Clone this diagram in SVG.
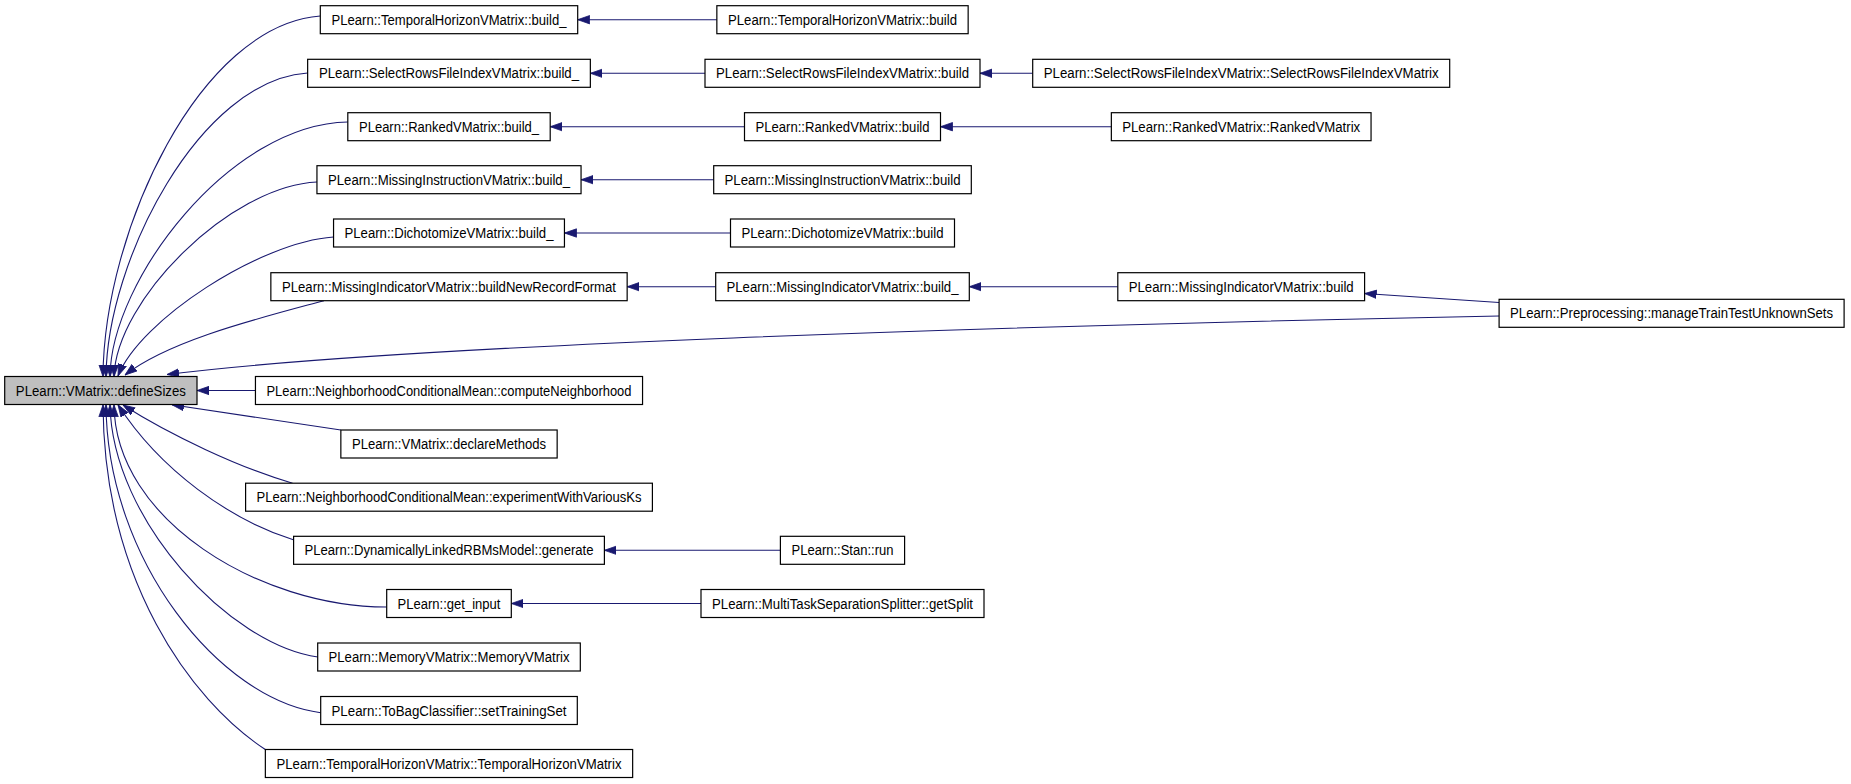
<svg xmlns="http://www.w3.org/2000/svg" width="1851" height="784" viewBox="0 0 1851 784">
<style>
.n rect{fill:#fff;stroke:#000;stroke-width:1.2}
.n text{font-family:"Liberation Sans",Arial,Helvetica,sans-serif;font-size:14px;fill:#000;text-anchor:middle}
.e path{fill:none;stroke:#191970;stroke-width:1.1;marker-end:url(#ah)}
</style>
<defs>
<marker id="ah" markerUnits="userSpaceOnUse" markerWidth="12" markerHeight="10" viewBox="0 0 12 10" refX="12" refY="5" orient="auto">
<polygon points="0,0.8 12,5 0,9.2" fill="#191970" stroke="#191970" stroke-width="0.8"/>
</marker>
</defs>
<rect width="1851" height="784" fill="#fff"/>
<g id="connectors" class="e">
<path d="M320.3,16 C200,25 104,230 103,376.7"/>
<path d="M307.6,73 C200,80 107,260 106,376.7"/>
<path d="M347.8,122 C230,124 111,280 110,376.7"/>
<path d="M317,182 C230,186 116,300 114,376.7"/>
<path d="M333.5,237 C260,242 140,320 118,376"/>
<path d="M324,300.7 C260,318 170,340 125,375"/>
<path d="M1499.1,316 C1000,326 400,345 167,374.5"/>
<path d="M255.4,390.5 L197,390.5"/>
<path d="M340.8,430 L172,404.8"/>
<path d="M292.6,483.2 C240,468 170,435 123,405"/>
<path d="M294,540 C230,520 160,470 118,404.8"/>
<path d="M386.7,607 C260,607 115,520 114,404.8"/>
<path d="M317.9,657 C230,645 112,520 110,404.8"/>
<path d="M320.7,712.7 C220,700 107,560 106,404.8"/>
<path d="M265.3,749.5 C190,700 104,580 103,404.8"/>
<path d="M716.9,19.7 L577.7,19.7"/>
<path d="M705,73.3 L590.4,73.3"/>
<path d="M1032.7,73.3 L980,73.3"/>
<path d="M744.5,126.7 L550.2,126.7"/>
<path d="M1111.4,126.7 L940.5,126.7"/>
<path d="M713.7,179.7 L581.1,179.7"/>
<path d="M730.5,233 L564.5,233"/>
<path d="M715.7,286.7 L627.2,286.7"/>
<path d="M1117.8,286.7 L969.3,286.7"/>
<path d="M1499.1,302.5 L1364.6,293.5"/>
<path d="M780.4,550.3 L604.4,550.3"/>
<path d="M701,603.5 L511.3,603.5"/>
</g>
<g id="n_defineSizes" class="n"><rect x="4.7" y="376.5" width="192.3" height="28" style="fill:#bfbfbf"/><text x="100.85" y="395.5" textLength="170" lengthAdjust="spacingAndGlyphs">PLearn::VMatrix::defineSizes</text></g>
<g id="n_thv_build_" class="n"><rect x="320.3" y="5.7" width="257.4" height="28"/><text x="449" y="24.7" textLength="235" lengthAdjust="spacingAndGlyphs">PLearn::TemporalHorizonVMatrix::build_</text></g>
<g id="n_srfi_build_" class="n"><rect x="307.65" y="59.3" width="282.7" height="28"/><text x="449" y="78.3" textLength="260" lengthAdjust="spacingAndGlyphs">PLearn::SelectRowsFileIndexVMatrix::build_</text></g>
<g id="n_ranked_build_" class="n"><rect x="347.8" y="112.7" width="202.4" height="28"/><text x="449" y="131.7" textLength="180" lengthAdjust="spacingAndGlyphs">PLearn::RankedVMatrix::build_</text></g>
<g id="n_mis_instr_build_" class="n"><rect x="316.95" y="165.7" width="264.1" height="28"/><text x="449" y="184.7" textLength="242" lengthAdjust="spacingAndGlyphs">PLearn::MissingInstructionVMatrix::build_</text></g>
<g id="n_dicho_build_" class="n"><rect x="333.55" y="219" width="230.9" height="28"/><text x="449" y="238" textLength="209" lengthAdjust="spacingAndGlyphs">PLearn::DichotomizeVMatrix::build_</text></g>
<g id="n_bnrf" class="n"><rect x="270.85" y="272.7" width="356.3" height="28"/><text x="449" y="291.7" textLength="334" lengthAdjust="spacingAndGlyphs">PLearn::MissingIndicatorVMatrix::buildNewRecordFormat</text></g>
<g id="n_compute_nb" class="n"><rect x="255.45" y="376.5" width="387.1" height="28"/><text x="449" y="395.5" textLength="365" lengthAdjust="spacingAndGlyphs">PLearn::NeighborhoodConditionalMean::computeNeighborhood</text></g>
<g id="n_declare" class="n"><rect x="340.85" y="430" width="216.3" height="28"/><text x="449" y="449" textLength="194" lengthAdjust="spacingAndGlyphs">PLearn::VMatrix::declareMethods</text></g>
<g id="n_experiment" class="n"><rect x="245.6" y="483.2" width="406.8" height="28"/><text x="449" y="502.2" textLength="385" lengthAdjust="spacingAndGlyphs">PLearn::NeighborhoodConditionalMean::experimentWithVariousKs</text></g>
<g id="n_generate" class="n"><rect x="293.6" y="536.3" width="310.8" height="28"/><text x="449" y="555.3" textLength="289" lengthAdjust="spacingAndGlyphs">PLearn::DynamicallyLinkedRBMsModel::generate</text></g>
<g id="n_get_input" class="n"><rect x="386.7" y="589.5" width="124.6" height="28"/><text x="449" y="608.5" textLength="103" lengthAdjust="spacingAndGlyphs">PLearn::get_input</text></g>
<g id="n_memory" class="n"><rect x="317.7" y="643" width="262.6" height="28"/><text x="449" y="662" textLength="241" lengthAdjust="spacingAndGlyphs">PLearn::MemoryVMatrix::MemoryVMatrix</text></g>
<g id="n_settraining" class="n"><rect x="320.7" y="696.5" width="256.6" height="28"/><text x="449" y="715.5" textLength="235" lengthAdjust="spacingAndGlyphs">PLearn::ToBagClassifier::setTrainingSet</text></g>
<g id="n_thv_thv" class="n"><rect x="265.35" y="749.5" width="367.3" height="28"/><text x="449" y="768.5" textLength="345" lengthAdjust="spacingAndGlyphs">PLearn::TemporalHorizonVMatrix::TemporalHorizonVMatrix</text></g>
<g id="n_thv_build" class="n"><rect x="716.85" y="5.7" width="251.3" height="28"/><text x="842.5" y="24.7" textLength="229" lengthAdjust="spacingAndGlyphs">PLearn::TemporalHorizonVMatrix::build</text></g>
<g id="n_srfi_build" class="n"><rect x="705" y="59.3" width="275" height="28"/><text x="842.5" y="78.3" textLength="253" lengthAdjust="spacingAndGlyphs">PLearn::SelectRowsFileIndexVMatrix::build</text></g>
<g id="n_ranked_build" class="n"><rect x="744.5" y="112.7" width="196" height="28"/><text x="842.5" y="131.7" textLength="174" lengthAdjust="spacingAndGlyphs">PLearn::RankedVMatrix::build</text></g>
<g id="n_mis_instr_build" class="n"><rect x="713.7" y="165.7" width="257.6" height="28"/><text x="842.5" y="184.7" textLength="236" lengthAdjust="spacingAndGlyphs">PLearn::MissingInstructionVMatrix::build</text></g>
<g id="n_dicho_build" class="n"><rect x="730.5" y="219" width="224" height="28"/><text x="842.5" y="238" textLength="202" lengthAdjust="spacingAndGlyphs">PLearn::DichotomizeVMatrix::build</text></g>
<g id="n_mis_ind_build_" class="n"><rect x="715.7" y="272.7" width="253.6" height="28"/><text x="842.5" y="291.7" textLength="232" lengthAdjust="spacingAndGlyphs">PLearn::MissingIndicatorVMatrix::build_</text></g>
<g id="n_stan_run" class="n"><rect x="780.4" y="536.3" width="124.2" height="28"/><text x="842.5" y="555.3" textLength="102" lengthAdjust="spacingAndGlyphs">PLearn::Stan::run</text></g>
<g id="n_getsplit" class="n"><rect x="701" y="589.5" width="283" height="28"/><text x="842.5" y="608.5" textLength="261" lengthAdjust="spacingAndGlyphs">PLearn::MultiTaskSeparationSplitter::getSplit</text></g>
<g id="n_srfi_srfi" class="n"><rect x="1032.7" y="59.3" width="417" height="28"/><text x="1241.2" y="78.3" textLength="395" lengthAdjust="spacingAndGlyphs">PLearn::SelectRowsFileIndexVMatrix::SelectRowsFileIndexVMatrix</text></g>
<g id="n_ranked_ranked" class="n"><rect x="1111.35" y="112.7" width="259.7" height="28"/><text x="1241.2" y="131.7" textLength="238" lengthAdjust="spacingAndGlyphs">PLearn::RankedVMatrix::RankedVMatrix</text></g>
<g id="n_mis_ind_build" class="n"><rect x="1117.8" y="272.7" width="246.8" height="28"/><text x="1241.2" y="291.7" textLength="225" lengthAdjust="spacingAndGlyphs">PLearn::MissingIndicatorVMatrix::build</text></g>
<g id="n_preprocessing" class="n"><rect x="1499.1" y="299.3" width="345" height="28"/><text x="1671.6" y="318.3" textLength="323" lengthAdjust="spacingAndGlyphs">PLearn::Preprocessing::manageTrainTestUnknownSets</text></g>
</svg>
